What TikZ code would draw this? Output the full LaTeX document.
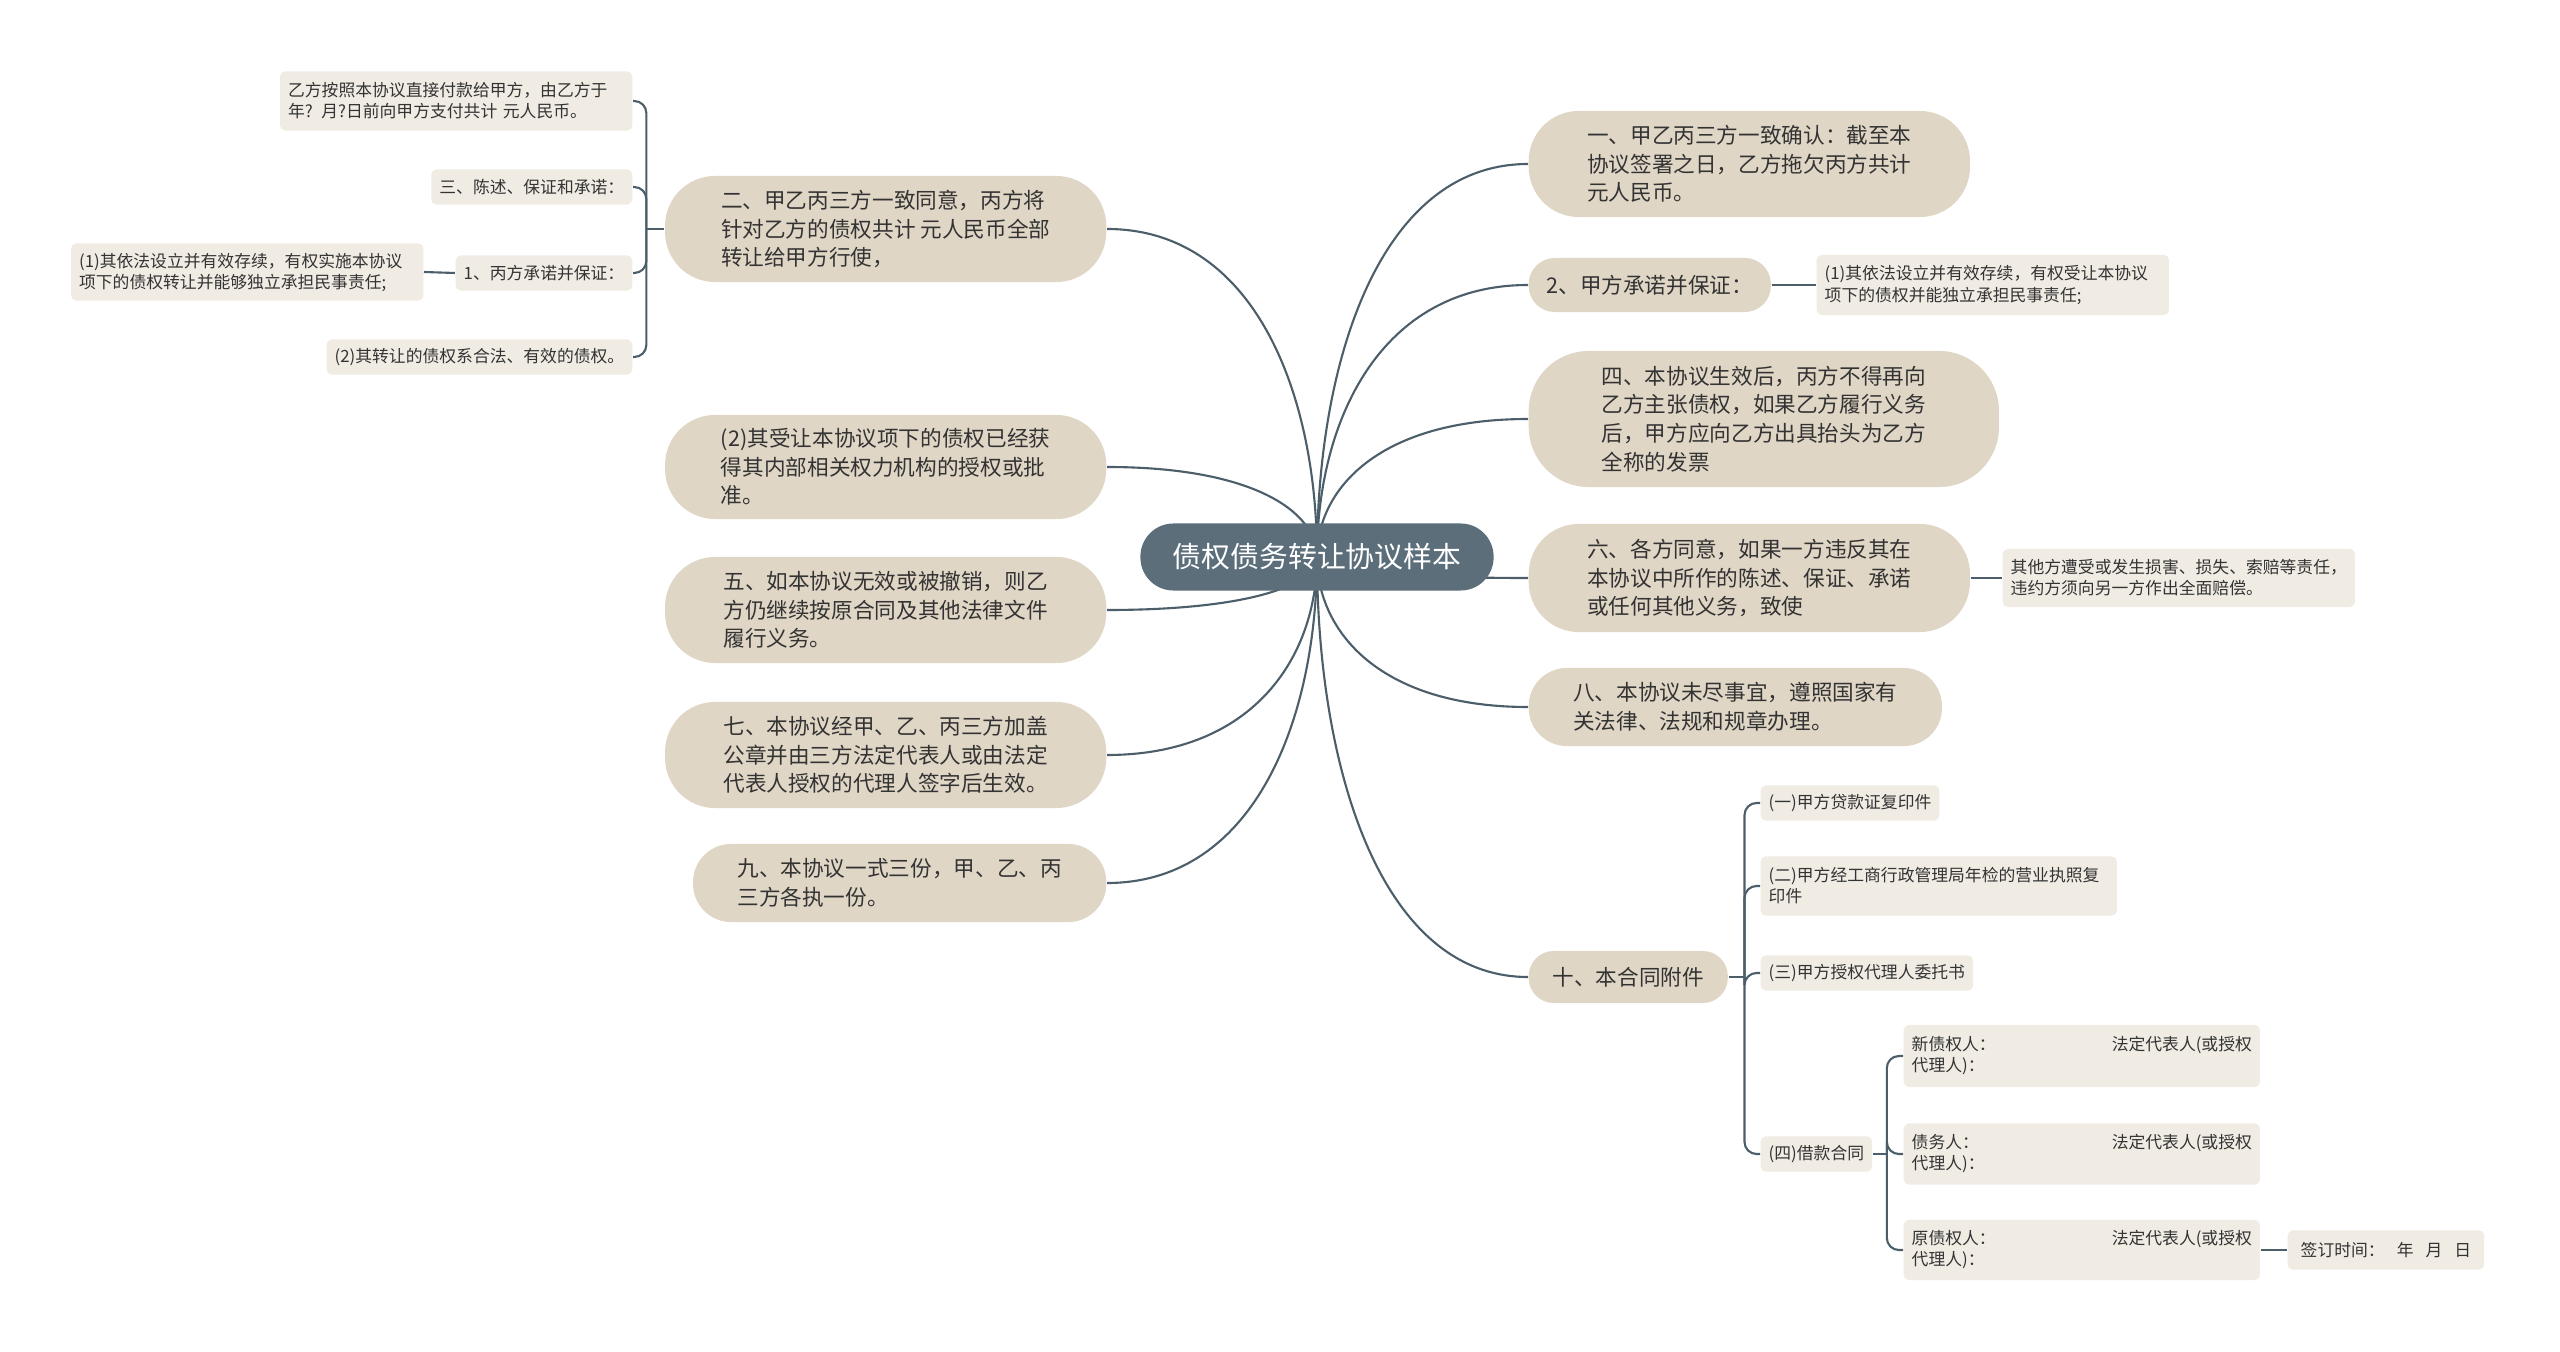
\documentclass[tikz,border=0pt]{standalone}
\usepackage{fontspec}
\setmainfont{Noto Sans CJK SC}
\usetikzlibrary{positioning,calc,backgrounds}
\definecolor{RootSlate}{RGB}{91,110,122}
\definecolor{TopicBeige}{RGB}{224,214,198}
\definecolor{LeafCream}{RGB}{240,236,228}
\definecolor{LinkSlate}{RGB}{76,94,106}
\definecolor{InkGray}{RGB}{51,51,51}
\newcommand\rootfont{\fontsize{8.2pt}{10pt}\selectfont}
\newcommand\topicfont{\fontsize{6.15pt}{8.14pt}\selectfont}
\newcommand\leaffont{\fontsize{4.78pt}{5.98pt}\selectfont}

\begin{document}
\begin{tikzpicture}[
  x=0.01cm, y=-0.01cm,
  root/.style={
    rectangle,
    rounded corners=0.33cm,
    fill=RootSlate,
    text=white,
    font=\rootfont,
    minimum width=3.53cm,
    minimum height=0.67cm,
    inner sep=0pt
  },
  topic/.style={
    rectangle,
    fill=TopicBeige,
    text=InkGray,
    font=\topicfont,
    align=left,
    inner sep=0pt
  },
  leaf/.style={
    rectangle,
    rounded corners=0.05cm,
    fill=LeafCream,
    text=InkGray,
    font=\leaffont,
    align=left,
    inner xsep=0.08cm,
    inner ysep=0pt,
    minimum height=0.35cm
  },
  link/.style={LinkSlate, line width=0.6pt,
    to path={.. controls ($(\tikztostart)!0.5!(\tikztostart |- \tikztotarget)$)
      and ($(\tikztotarget)!0.7!(\tikztostart |- \tikztotarget)$) .. (\tikztotarget)}},
  wire/.style={LinkSlate, line width=0.6pt},
  bracket/.style={LinkSlate, line width=0.6pt, rounded corners=0.12cm}
]

  \useasboundingbox (0,0) rectangle (2560,1352);

  \node[root] (root) at (1317,557) {债权债务转让协议样本};

  \node[topic, anchor=east, minimum width=4.41cm, minimum height=1.06cm, rounded corners=0.5cm] (two) at (1107,229)
    {二、甲乙丙三方一致同意，丙方将\\针对乙方的债权共计 元人民币全部\\转让给甲方行使，};
  \node[topic, anchor=east, minimum width=4.41cm, minimum height=1.04cm, rounded corners=0.5cm] (accept) at (1107,467)
    {(2)其受让本协议项下的债权已经获\\得其内部相关权力机构的授权或批\\准。};
  \node[topic, anchor=east, minimum width=4.41cm, minimum height=1.06cm, rounded corners=0.5cm] (five) at (1107,610)
    {五、如本协议无效或被撤销，则乙\\方仍继续按原合同及其他法律文件\\履行义务。};
  \node[topic, anchor=east, minimum width=4.41cm, minimum height=1.06cm, rounded corners=0.5cm] (seven) at (1107,755)
    {七、本协议经甲、乙、丙三方加盖\\公章并由三方法定代表人或由法定\\代表人授权的代理人签字后生效。};
  \node[topic, anchor=east, minimum width=4.13cm, minimum height=0.78cm, rounded corners=0.38cm] (nine) at (1107,883)
    {九、本协议一式三份，甲、乙、丙\\三方各执一份。};

  \node[leaf, anchor=east, text width=3.36cm, minimum height=0.59cm] (payB) at (633,101)
    {乙方按照本协议直接付款给甲方，由乙方于\\年? 月?日前向甲方支付共计 元人民币。};
  \node[leaf, anchor=east] (statement) at (633,187) {三、陈述、保证和承诺：};
  \node[leaf, anchor=east] (pledgeC) at (633,273) {1、丙方承诺并保证：};
  \node[leaf, anchor=east, text width=3.36cm, minimum height=0.57cm] (pledgeCa) at (424,272)
    {(1)其依法设立并有效存续，有权实施本协议\\项下的债权转让并能够独立承担民事责任;};
  \node[leaf, anchor=east] (pledgeCb) at (633,357) {(2)其转让的债权系合法、有效的债权。};

  \node[topic, anchor=west, minimum width=4.41cm, minimum height=1.06cm, rounded corners=0.5cm] (one) at (1528,164)
    {一、甲乙丙三方一致确认：截至本\\协议签署之日，乙方拖欠丙方共计\\元人民币。};
  \node[topic, anchor=west, minimum width=2.42cm, minimum height=0.54cm, rounded corners=0.26cm] (pledgeA) at (1528,285)
    {2、甲方承诺并保证：};
  \node[topic, anchor=west, minimum width=4.70cm, minimum height=1.36cm, rounded corners=0.6cm] (four) at (1528,419)
    {四、本协议生效后，丙方不得再向\\乙方主张债权，如果乙方履行义务\\后，甲方应向乙方出具抬头为乙方\\全称的发票};
  \node[topic, anchor=west, minimum width=4.41cm, minimum height=1.08cm, rounded corners=0.5cm] (six) at (1528,578)
    {六、各方同意，如果一方违反其在\\本协议中所作的陈述、保证、承诺\\或任何其他义务，致使};
  \node[topic, anchor=west, minimum width=4.13cm, minimum height=0.78cm, rounded corners=0.38cm] (eight) at (1528,707)
    {八、本协议未尽事宜，遵照国家有\\关法律、法规和规章办理。};
  \node[topic, anchor=west, minimum width=1.99cm, minimum height=0.52cm, rounded corners=0.25cm] (ten) at (1528,977)
    {十、本合同附件};

  \node[leaf, anchor=west, text width=3.36cm, minimum height=0.60cm] (pledgeAa) at (1816,285)
    {(1)其依法设立并有效存续，有权受让本协议\\项下的债权并能独立承担民事责任;};
  \node[leaf, anchor=west, text width=3.36cm, minimum height=0.58cm] (breach) at (2002,578)
    {其他方遭受或发生损害、损失、索赔等责任，\\违约方须向另一方作出全面赔偿。};
  \node[leaf, anchor=west] (annexA) at (1760,803) {(一)甲方贷款证复印件};
  \node[leaf, anchor=west, text width=3.40cm, minimum height=0.59cm] (annexB) at (1760,886)
    {(二)甲方经工商行政管理局年检的营业执照复\\印件};
  \node[leaf, anchor=west] (annexC) at (1760,973) {(三)甲方授权代理人委托书};
  \node[leaf, anchor=west] (annexD) at (1760,1154) {(四)借款合同};
  \node[leaf, anchor=west, text width=3.40cm, minimum height=0.62cm] (newCreditor) at (1903,1056)
    {新债权人：\hfill 法定代表人(或授权\\代理人)：};
  \node[leaf, anchor=west, text width=3.40cm, minimum height=0.61cm] (debtor) at (1903,1154)
    {债务人：\hfill 法定代表人(或授权\\代理人)：};
  \node[leaf, anchor=west, text width=3.40cm, minimum height=0.60cm] (oldCreditor) at (1903,1250)
    {原债权人：\hfill 法定代表人(或授权\\代理人)：};
  \node[leaf, anchor=west, inner xsep=0.13cm, minimum height=0.39cm] (signDate) at (2287,1250)
    {签订时间：\hspace{0.12cm}年\hspace{0.12cm}月\hspace{0.12cm}日};

  \coordinate (twoTrunk) at ([xshift=-0.18cm]two.west);
  \coordinate (tenTrunk) at ([xshift=0.16cm]ten.east);
  \coordinate (annexDTrunk) at ([xshift=0.14cm]annexD.east);

  \begin{scope}[on background layer]
    \fill[white] (0,0) rectangle (2560,1352);
    \foreach \topicname in {two,accept,five,seven,nine}
      \draw[link] (root.center) to (\topicname.east);
    \foreach \topicname in {one,pledgeA,four,six,eight,ten}
      \draw[link] (root.center) to (\topicname.west);
  \end{scope}

  \draw[wire] (two.west) -- (twoTrunk);
  \foreach \leafname in {payB,statement,pledgeC,pledgeCb}
    \draw[bracket] (twoTrunk) |- (\leafname.east);
  \draw[wire] (pledgeC.west) -- (pledgeCa.east);

  \draw[wire] (pledgeA.east) -- (pledgeAa.west);
  \draw[wire] (six.east) -- (breach.west);

  \draw[wire] (ten.east) -- (tenTrunk);
  \foreach \leafname in {annexA,annexB,annexC,annexD}
    \draw[bracket] (tenTrunk) |- (\leafname.west);

  \draw[wire] (annexD.east) -- (annexDTrunk);
  \foreach \leafname in {newCreditor,debtor,oldCreditor}
    \draw[bracket] (annexDTrunk) |- (\leafname.west);
  \draw[wire] (oldCreditor.east) -- (signDate.west);

\end{tikzpicture}
\end{document}
